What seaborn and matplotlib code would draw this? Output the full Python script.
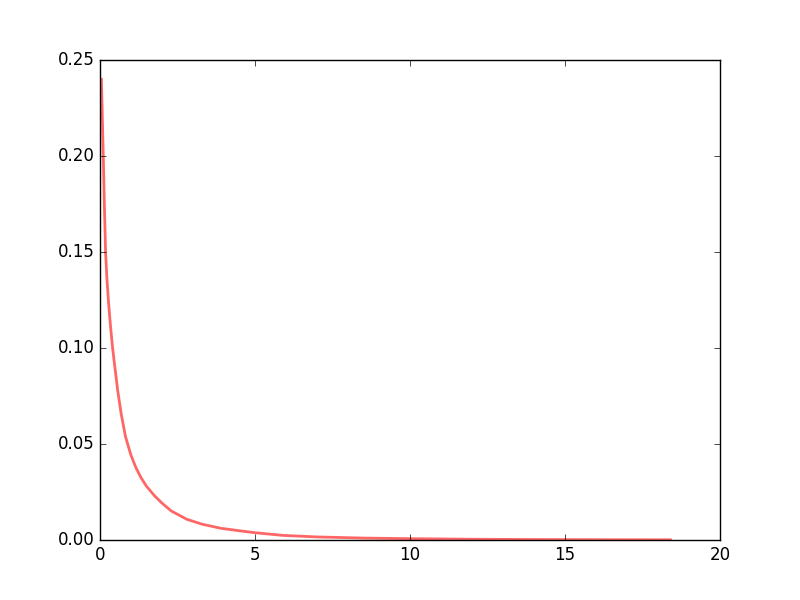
import matplotlib
matplotlib.use("Agg")
import matplotlib.pyplot as plt
import seaborn as sns
import pandas as pd

x_vals = [0.045, 0.08, 0.11, 0.14, 0.18, 0.22, 0.27, 0.33, 0.40, 0.48, 0.57, 0.68, 0.82,
          0.99, 1.15, 1.32, 1.5, 1.75, 2.0, 2.3, 2.8, 3.3, 3.9, 4.5, 5.0, 5.9, 7.0,
          8.5, 10.0, 12.0, 14.0, 16.0, 18.4]
y_vals = [0.240, 0.217, 0.197, 0.175, 0.150, 0.137, 0.125, 0.113, 0.101, 0.090, 0.078, 0.066,
          0.054, 0.0446, 0.038, 0.0325, 0.028, 0.0232, 0.0192, 0.0151, 0.0108, 0.0082, 0.0061,
          0.0048, 0.0038, 0.0024, 0.0016, 0.0010, 0.0007, 0.0004, 0.00025, 0.00015, 0.0001]
x_ticks = [0, 5, 10, 15, 20]
y_ticks = [0.00, 0.05, 0.10, 0.15, 0.20, 0.25]

df = pd.DataFrame({"x": x_vals, "pdf": y_vals})

plt.style.use("classic")
fig, ax = plt.subplots(figsize=(8, 6), dpi=100)
fig.patch.set_facecolor("white")

sns.lineplot(data=df, x="x", y="pdf", ax=ax, color="r", alpha=0.6, lw=2)

ax.set_xlim(0, 20)
ax.set_ylim(0, 0.25)
ax.set_xticks(x_ticks)
ax.set_yticks(y_ticks)
ax.set_yticklabels([f"{t:.2f}" for t in y_ticks])
ax.set_xlabel("")
ax.set_ylabel("")

plt.savefig("out.png", dpi=100, facecolor="white")
